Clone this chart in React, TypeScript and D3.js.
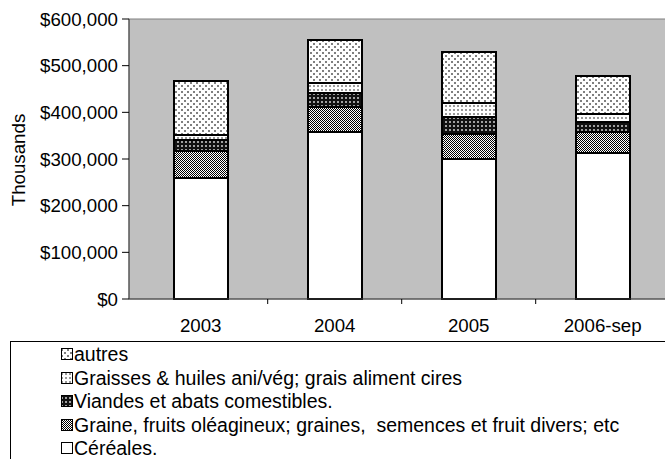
import { useEffect, useRef } from "react";
import * as d3 from "d3";

const years = ["2003", "2004", "2005", "2006-sep"];
const seriesNames = [
  "Céréales.",
  "Graine, fruits oléagineux; graines,  semences et fruit divers; etc",
  "Viandes et abats comestibles.",
  "Graisses & huiles ani/vég; grais aliment cires",
  "autres",
];
// values in thousands of dollars, bottom to top
const cereales = [260000, 358000, 300000, 313000];
const graine = [58000, 53000, 54000, 45000];
const viandes = [22000, 31000, 36000, 21000];
const graisses = [12000, 20000, 30000, 18000];
const autres = [115000, 93000, 110000, 80000];
const yTicks = [0, 100000, 200000, 300000, 400000, 500000, 600000];

const W = 665;
const H = 459;
const FONT = "Arial, 'Liberation Sans', sans-serif";
const FS = "18.7px";

export default function App() {
  const svgRef = useRef<SVGSVGElement>(null);

  useEffect(() => {
    if (!svgRef.current) return;
    const svg = d3.select(svgRef.current);
    svg.selectAll("*").remove();

    const plot = { left: 129, top: 19, right: 665, bottom: 299 };

    // patterns for the segments
    const defs = svg.append("defs");
    const pat = (id: string, size: number, bg: string) => {
      const p = defs
        .append("pattern")
        .attr("id", id)
        .attr("width", size)
        .attr("height", size)
        .attr("patternUnits", "userSpaceOnUse");
      p.append("rect").attr("width", size).attr("height", size).attr("fill", bg);
      return p;
    };
    const dot = (p: any, px: number, py: number, s: number, c: string) =>
      p
        .append("rect")
        .attr("x", px)
        .attr("y", py)
        .attr("width", s)
        .attr("height", s)
        .attr("fill", c)
        .attr("shape-rendering", "crispEdges");
    pat("p0", 4, "#ffffff");
    const p1 = pat("p1", 2, "#ffffff");
    dot(p1, 0, 0, 1, "#000");
    dot(p1, 1, 1, 1, "#000");
    const p2 = pat("p2", 4, "#111111");
    dot(p2, 1, 1, 2, "#a0a0a0");
    const p3 = pat("p3", 4, "#ffffff");
    dot(p3, 1, 1, 2, "#999999");
    const p4 = pat("p4", 6, "#ffffff");
    dot(p4, 1, 1, 2, "#808080");
    dot(p4, 4, 4, 2, "#808080");
    const fills = ["url(#p0)", "url(#p1)", "url(#p2)", "url(#p3)", "url(#p4)"];

    const x = d3
      .scaleBand<string>()
      .domain(years)
      .range([133.7, 669.7])
      .paddingInner(0.6)
      .paddingOuter(0.3);
    const y = d3.scaleLinear().domain([0, 600000]).range([plot.bottom, plot.top]);

    // plot background
    svg
      .append("rect")
      .attr("x", plot.left)
      .attr("y", plot.top)
      .attr("width", plot.right - plot.left + 2)
      .attr("height", plot.bottom - plot.top)
      .attr("fill", "#c0c0c0")
      .attr("stroke", "#808080")
      .attr("stroke-width", 1);

    const rows = years.map((yr, i) => ({
      year: yr,
      s0: cereales[i],
      s1: graine[i],
      s2: viandes[i],
      s3: graisses[i],
      s4: autres[i],
    }));
    const stack = d3.stack<any>().keys(["s0", "s1", "s2", "s3", "s4"]);
    const layers = stack(rows);

    layers.forEach((layer, li) => {
      svg
        .append("g")
        .selectAll("rect")
        .data(layer)
        .enter()
        .append("rect")
        .attr("x", (d: any) => Math.round(x(d.data.year)!))
        .attr("y", (d) => Math.round(y(d[1])))
        .attr("width", Math.round(x.bandwidth()))
        .attr("height", (d) => Math.round(y(d[0])) - Math.round(y(d[1])))
        .attr("fill", fills[li])
        .attr("stroke", "#000")
        .attr("stroke-width", 2);
    });

    // y axis
    const yAxis = svg.append("g");
    yAxis
      .append("line")
      .attr("x1", plot.left)
      .attr("x2", plot.left)
      .attr("y1", plot.top)
      .attr("y2", plot.bottom)
      .attr("stroke", "#404040");
    const fmt = d3.format("$,");
    yTicks.forEach((t) => {
      yAxis
        .append("line")
        .attr("x1", plot.left - 7)
        .attr("x2", plot.left)
        .attr("y1", y(t))
        .attr("y2", y(t))
        .attr("stroke", "#000");
      yAxis
        .append("text")
        .attr("x", 118)
        .attr("y", y(t) + 6.5)
        .attr("text-anchor", "end")
        .style("font-family", FONT)
        .style("font-size", FS)
        .attr("fill", "#000")
        .text(fmt(t));
    });

    // x axis
    const xAxis = svg.append("g");
    xAxis
      .append("line")
      .attr("x1", plot.left)
      .attr("x2", plot.right)
      .attr("y1", plot.bottom)
      .attr("y2", plot.bottom)
      .attr("stroke", "#404040");
    const step = x.step();
    years.forEach((yr, i) => {
      const bx = 133.7 + step * i;
      if (i > 0)
        xAxis
          .append("line")
          .attr("x1", bx)
          .attr("x2", bx)
          .attr("y1", plot.bottom)
          .attr("y2", plot.bottom + 5)
          .attr("stroke", "#000");
      xAxis
        .append("text")
        .attr("x", x(yr)! + x.bandwidth() / 2)
        .attr("y", 332)
        .attr("text-anchor", "middle")
        .style("font-family", FONT)
        .style("font-size", FS)
        .text(yr);
    });

    svg
      .append("text")
      .attr("transform", "translate(25,160) rotate(-90)")
      .attr("text-anchor", "middle")
      .style("font-family", FONT)
      .style("font-size", FS)
      .text("Thousands");

    // legend
    const lg = svg.append("g");
    lg.append("rect")
      .attr("x", 10.5)
      .attr("y", 341.5)
      .attr("width", 700)
      .attr("height", 200)
      .attr("fill", "#fff")
      .attr("stroke", "#000");
    const legendOrder = [4, 3, 2, 1, 0];
    legendOrder.forEach((si, k) => {
      const cy = 354 + k * 23.5;
      lg.append("rect")
        .attr("x", 61.5)
        .attr("y", Math.round(cy - 6) + 0.5)
        .attr("width", 11)
        .attr("height", 11)
        .attr("fill", fills[si])
        .attr("stroke", "#000")
        .attr("stroke-width", 1);
      lg.append("text")
        .attr("x", 74)
        .attr("y", cy + 7)
        .style("font-family", FONT)
        .style("font-size", "19.5px")
        .style("white-space", "pre")
        .text(seriesNames[si]);
    });
  }, []);

  return (
    <svg
      ref={svgRef}
      width={W}
      height={H}
      style={{ position: "absolute", left: 0, top: 0, background: "#fff" }}
    />
  );
}
